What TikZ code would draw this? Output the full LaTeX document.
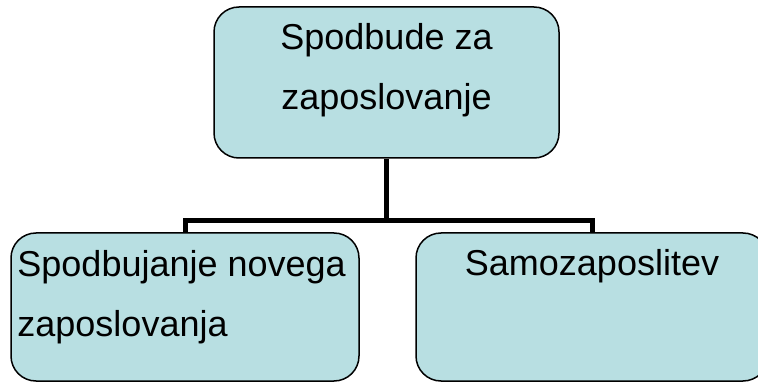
\documentclass[tikz,border=0pt]{standalone}
\usepackage{fontspec}
\setmainfont{Liberation Sans}
\usetikzlibrary{positioning}
\definecolor{boxfill}{HTML}{B8DFE2}
\tikzset{
  orgbox/.style={draw=black, line width=1.5pt, fill=boxfill, rounded corners=25pt, inner sep=0pt},
  orgtext/.style={inner sep=0pt, font=\fontsize{36}{60}\selectfont},
  orgline/.style={line width=5pt}
}
\begin{document}
\begin{tikzpicture}[x=1pt, y=-1pt]
\useasboundingbox (0,0) rectangle (758,382);
% boxes
\node[orgbox, minimum width=345pt, minimum height=151pt] (top) at (386.5,82.5) {};
\node[orgbox, minimum width=348pt, minimum height=148pt] (left) at (185,307) {};
\node[orgbox, minimum width=352pt, minimum height=148pt] (right) at (592,307) {};
% texts
\node[orgtext, align=center, below=17pt of top.north] (toptext) {Spodbude za\\zaposlovanje};
\node[orgtext, align=left, anchor=north west] (lefttext) at ([xshift=7pt, yshift=-18pt]left.north west) {Spodbujanje novega\\zaposlovanja};
\node[orgtext, below=17pt of right.north] (righttext) {Samozaposlitev};
% connectors
\coordinate (split) at ([yshift=-62pt]top.south);
\draw[orgline] (top.south) -- (split);
\draw[orgline] (left.north) |- (split) -| (right.north);
\end{tikzpicture}
\end{document}
